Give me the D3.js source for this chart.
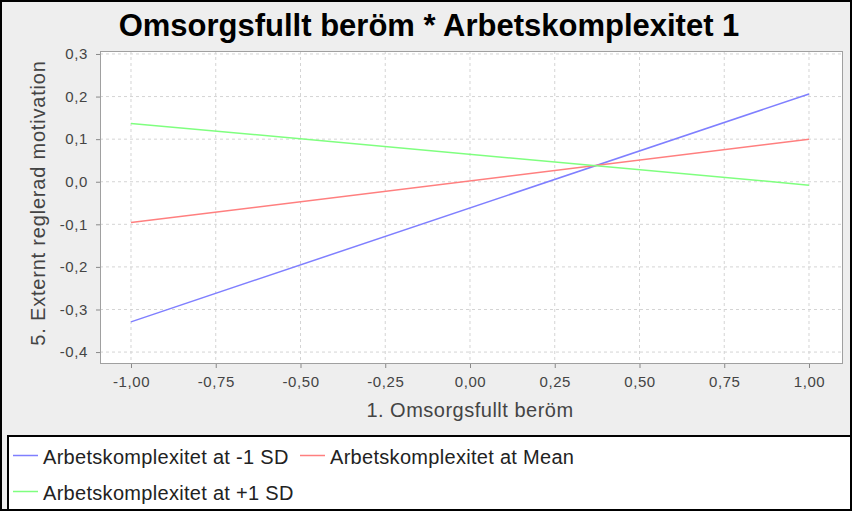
<!DOCTYPE html>
<html><head><meta charset="utf-8">
<script src="https://cdn.jsdelivr.net/npm/d3@7"></script>
<style>body{margin:0;background:#fff}svg{display:block}text{font-family:"Liberation Sans",Arial,sans-serif}</style>
</head><body><svg id="c" width="852" height="511"></svg>
<script>
const title = "Omsorgsfullt beröm * Arbetskomplexitet 1";
const xLabel = "1. Omsorgsfullt beröm";
const yLabel = "5. Externt reglerad motivation";
const xPoints = [-1, 1];
const seriesNames = ["Arbetskomplexitet at -1 SD", "Arbetskomplexitet at Mean", "Arbetskomplexitet at +1 SD"];
const seriesColors = ["#7f7fff", "#ff7f7f", "#7fff7f"];
const lowSD = [-0.329, 0.206];
const meanVals = [-0.096, 0.100];
const highSD = [0.137, -0.008];
const xTicks = [-1, -0.75, -0.5, -0.25, 0, 0.25, 0.5, 0.75, 1];
const yTicks = [-0.4, -0.3, -0.2, -0.1, 0, 0.1, 0.2, 0.3];

const seriesVals = [lowSD, meanVals, highSD];
const svg = d3.select("#c");
const W = 852, H = 511;
svg.append("rect").attr("x",0).attr("y",0).attr("width",W).attr("height",H).attr("fill","#eeeeee");
const pl = 100, pr = 843, pt = 51, pb = 364;
const x = d3.scaleLinear().domain([-1.0914, 1.1003]).range([pl, pr]);
const y = d3.scaleLinear().domain([-0.428, 0.307]).range([pb, pt]);
svg.append("rect").attr("x",pl).attr("y",pt).attr("width",pr-pl).attr("height",pb-pt).attr("fill","#fff");
const g = svg.append("g");
g.selectAll("line.gx").data(xTicks).join("line").attr("x1",d=>x(d)).attr("x2",d=>x(d)).attr("y1",pt).attr("y2",pb)
 .attr("stroke","#d4d4d4").attr("stroke-dasharray","3,3");
g.selectAll("line.gy").data(yTicks).join("line").attr("y1",d=>y(d)).attr("y2",d=>y(d)).attr("x1",pl).attr("x2",pr)
 .attr("stroke","#d4d4d4").attr("stroke-dasharray","3,3");
const line = d3.line().x((d,i)=>x(xPoints[i])).y(d=>y(d));
seriesVals.forEach((s,i)=>{
  svg.append("path").datum(s).attr("d",line).attr("fill","none").attr("stroke",seriesColors[i]).attr("stroke-width",1.5);
});
svg.append("rect").attr("x",pl+0.5).attr("y",pt+0.5).attr("width",pr-pl-1).attr("height",pb-pt-1).attr("fill","none").attr("stroke","#a0a0a0");
const fmt = d => d3.format(".2f")(d).replace(".",",").replace("−","-");
const fmty = d => d3.format(".1f")(d).replace(".",",").replace("−","-");
const xa = svg.append("g").attr("transform",`translate(0,${pb})`)
 .call(d3.axisBottom(x).tickValues(xTicks).tickFormat(fmt).tickSize(4).tickPadding(8));
const ya = svg.append("g").attr("transform",`translate(${pl},0)`)
 .call(d3.axisLeft(y).tickValues(yTicks).tickFormat(fmty).tickSize(4).tickPadding(8));
[xa,ya].forEach(a=>{
  a.select(".domain").remove();
  a.selectAll(".tick line").attr("stroke","#888");
  a.selectAll(".tick text").attr("fill","#444").style("font-size","15px").style("letter-spacing","0.6px")
   .style("font-family","'Liberation Sans',Arial,sans-serif");
});
svg.append("text").attr("x",429).attr("y",36).attr("text-anchor","middle").attr("font-weight","bold").attr("font-size",31).attr("fill","#000").text(title);
svg.append("text").attr("x",470).attr("y",417).attr("text-anchor","middle").attr("font-size",20).attr("letter-spacing","0.5px").attr("fill","#444").text(xLabel);
svg.append("text").attr("transform","translate(45,203) rotate(-90)").attr("text-anchor","middle").attr("font-size",20).attr("letter-spacing","0.8px").attr("fill","#444").text(yLabel);
svg.append("rect").attr("x",8).attr("y",436).attr("width",W-9).attr("height",H-437).attr("fill","#fff").attr("stroke","#000").attr("stroke-width",2);
const leg = [{x:13,y:455.5},{x:300,y:455.5},{x:13,y:491.5}];
seriesNames.forEach((n,i)=>{
  const p = leg[i];
  svg.append("line").attr("x1",p.x).attr("x2",p.x+25).attr("y1",p.y).attr("y2",p.y).attr("stroke",seriesColors[i]).attr("stroke-width",1.5);
  svg.append("text").attr("x",p.x+30).attr("y",p.y+8.5).attr("font-size",20).attr("letter-spacing","0.3px").attr("fill","#222").text(n);
});
svg.append("rect").attr("x",1).attr("y",1).attr("width",W-2).attr("height",H-2).attr("fill","none").attr("stroke","#000").attr("stroke-width",2);
</script></body></html>
